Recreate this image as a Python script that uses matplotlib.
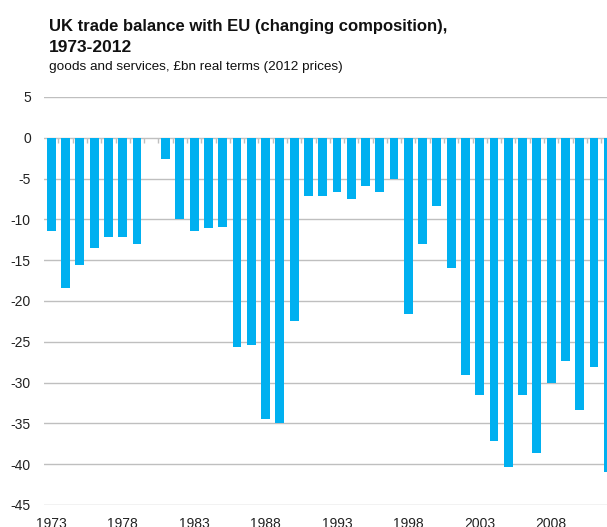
import matplotlib.pyplot as plt
import numpy as np

plt.rcParams['font.family'] = ['Liberation Sans', 'DejaVu Sans']
plt.rcParams['axes.unicode_minus'] = False

# UK trade balance with EU, £bn (2012 prices)
years = list(range(1973, 2013))
balance = [-11.4, -18.4, -15.6, -13.5, -12.1, -12.1, -13.0, 0.0, -2.6, -9.9,
           -11.4, -11.1, -10.9, -25.6, -25.4, -34.5, -34.9, -22.5, -7.1, -7.1,
           -6.6, -7.5, -5.9, -6.6, -5.0, -21.6, -13.0, -8.3, -15.9, -29.1,
           -31.5, -37.1, -40.4, -31.5, -38.6, -30.1, -27.3, -33.3, -28.1, -40.9]
label_years = years[::5][:8]

bar_color = '#00B0F0'
grid_color = '#BFBFBF'

fig = plt.figure(figsize=(6.07, 5.27), dpi=100)
# axes runs a little past the right edge, like the cropped original
ax = fig.add_axes([44.2 / 607, 1 - 505 / 527, 571.2 / 607, 408 / 527])

x = np.arange(len(years))
ax.bar(x, balance, width=0.62, color=bar_color, zorder=2)

ymin, ymax = -45, 5
ax.set_ylim(ymin, ymax)
ax.set_xlim(-0.5, len(years) - 0.5)
ax.set_yticks(np.arange(-45, 6, 5))
ax.yaxis.grid(True, color=grid_color, linewidth=1.0, zorder=0)
ax.set_axisbelow(True)

ax.set_xticks([years.index(y) for y in label_years])
ax.set_xticklabels([str(y) for y in label_years])
ax.tick_params(axis='x', length=0, pad=8.5, labelsize=10, labelcolor='#222222')
ax.tick_params(axis='y', length=0, pad=9.6, labelsize=10, labelcolor='#222222')
for s in ax.spines.values():
    s.set_visible(False)

# category axis drawn at zero
zero_pos = (0 - ymin) / (ymax - ymin)
sec = ax.secondary_xaxis(zero_pos)
sec.set_xticks(x[:-1] + 0.5)
sec.set_xticks([], minor=True)
sec.tick_params(axis='x', direction='out', length=3.5, width=1.0, color=grid_color,
                labelbottom=False, labeltop=False, bottom=True, top=False)
sec.spines['bottom'].set_color(grid_color)
sec.spines['bottom'].set_linewidth(1.6)
for k in ['top', 'left', 'right']:
    sec.spines[k].set_visible(False)

fig.text(49 / 607, 1 - 31 / 527, 'UK trade balance with EU (changing composition),',
         fontsize=12, fontweight='bold', va='baseline', ha='left', color='#111111')
fig.text(49 / 607, 1 - 52.5 / 527, '1973-2012',
         fontsize=12.5, fontweight='bold', va='baseline', ha='left', color='#111111')
fig.text(49 / 607, 1 - 70 / 527, 'goods and services, £bn real terms (2012 prices)',
         fontsize=9.7, va='baseline', ha='left', color='#111111')

plt.savefig('out.png', dpi=100)
